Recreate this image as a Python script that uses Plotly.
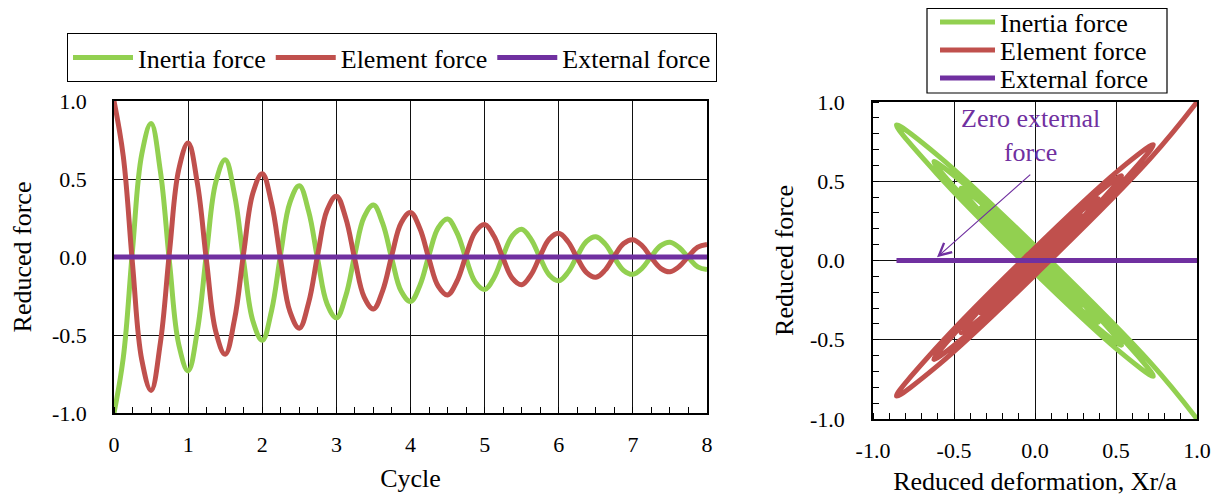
import plotly.graph_objects as go

cycle = [i / 8 for i in range(65)]

deformation = [1.000, 0.714, 0.046, -0.597, -0.855, -0.610, -0.040, 0.510,
               0.730, 0.521, 0.034, -0.436, -0.624, -0.446, -0.029, 0.373,
               0.534, 0.381, 0.025, -0.319, -0.456, -0.326, -0.021, 0.272,
               0.390, 0.278, 0.018, -0.233, -0.333, -0.238, -0.015, 0.199,
               0.285, 0.203, 0.013, -0.170, -0.243, -0.174, -0.011, 0.145,
               0.208, 0.148, 0.010, -0.124, -0.178, -0.127, -0.008, 0.106,
               0.152, 0.108, 0.007, -0.091, -0.130, -0.093, -0.006, 0.077,
               0.111, 0.079, 0.005, -0.066, -0.095, -0.068, -0.004, 0.057,
               0.081]

element_force = [1.000, 0.646, -0.046, -0.660, -0.855, -0.552, 0.040, 0.564,
                 0.730, 0.472, -0.034, -0.482, -0.624, -0.403, 0.029, 0.412,
                 0.534, 0.345, -0.025, -0.352, -0.456, -0.294, 0.021, 0.301,
                 0.390, 0.252, -0.018, -0.257, -0.333, -0.215, 0.015, 0.220,
                 0.285, 0.184, -0.013, -0.188, -0.243, -0.157, 0.011, 0.161,
                 0.208, 0.134, -0.010, -0.137, -0.178, -0.115, 0.008, 0.117,
                 0.152, 0.098, -0.007, -0.100, -0.130, -0.084, 0.006, 0.086,
                 0.111, 0.072, -0.005, -0.073, -0.095, -0.061, 0.004, 0.063,
                 0.081]

inertia_force = [-1.000, -0.646, 0.046, 0.660, 0.855, 0.552, -0.040, -0.564,
                 -0.730, -0.472, 0.034, 0.482, 0.624, 0.403, -0.029, -0.412,
                 -0.534, -0.345, 0.025, 0.352, 0.456, 0.294, -0.021, -0.301,
                 -0.390, -0.252, 0.018, 0.257, 0.333, 0.215, -0.015, -0.220,
                 -0.285, -0.184, 0.013, 0.188, 0.243, 0.157, -0.011, -0.161,
                 -0.208, -0.134, 0.010, 0.137, 0.178, 0.115, -0.008, -0.117,
                 -0.152, -0.098, 0.007, 0.100, 0.130, 0.084, -0.006, -0.086,
                 -0.111, -0.072, 0.005, 0.073, 0.095, 0.061, -0.004, -0.063,
                 -0.081]

external_force = [0.0] * 65

series_names = ["Inertia force", "Element force", "External force"]
colors = ["#92D050", "#C0504D", "#7030A0"]

cycle_ticks = [0, 1, 2, 3, 4, 5, 6, 7, 8]
cycle_ticklabels = ["0", "1", "2", "3", "4", "5", "6", "7", "8"]
unit_ticks = [-1.0, -0.5, 0.0, 0.5, 1.0]
unit_ticklabels = ["-1.0", "-0.5", "0.0", "0.5", "1.0"]

annotation_text = "Zero external<br>force"

FONT = "Liberation Serif"
OFF = 8                    # page body margin of the browser
W, H = 1219 - OFF, 496 - OFF


def px_x(p):
    return (p - OFF) / W


def px_y(p):
    return 1 - (p - OFF) / H


fig = go.Figure()

left_series = [inertia_force, element_force, external_force]
for name, col, ys in zip(series_names, colors, left_series):
    fig.add_trace(go.Scatter(x=cycle, y=ys, mode="lines", name=name,
                             line=dict(color=col, width=5, shape="spline", smoothing=1.1),
                             xaxis="x", yaxis="y", legend="legend"))

right_legends = ["legend2", "legend3", "legend4"]
for name, col, ys, lg in zip(series_names, colors, left_series, right_legends):
    fig.add_trace(go.Scatter(x=deformation, y=ys, mode="lines", name=name,
                             line=dict(color=col, width=5, shape="spline", smoothing=1.1),
                             xaxis="x2", yaxis="y2", legend=lg))


def axis(**kw):
    d = dict(showgrid=True, gridcolor="#111111", gridwidth=1, zeroline=False,
             showline=True, linecolor="black", linewidth=1.5, mirror=True,
             tickfont=dict(family=FONT, size=22, color="black"),
             title_font=dict(family=FONT, size=26, color="black"),
             ticks="", automargin=False, tickmode="array")
    d.update(kw)
    return d


minor_unit = dict(ticks="inside", tickvals=[i / 10 - 1 for i in range(21)], ticklen=6,
                  tickcolor="black", tickwidth=1, showgrid=False)

legend_font = dict(family=FONT, size=26, color="black")

layout = dict(
    width=W, height=H, autosize=False,
    margin=dict(l=0, r=0, t=0, b=0, autoexpand=False),
    paper_bgcolor="white", plot_bgcolor="white",
    font=dict(family=FONT, size=26, color="black"),
    xaxis=axis(domain=[px_x(114), px_x(707)], range=[0, 8],
               tickvals=cycle_ticks, ticktext=cycle_ticklabels,
               title=dict(text="Cycle", standoff=13), ticklabelstandoff=11,
               minor=dict(ticks="inside", tickvals=[i / 4 for i in range(33)], ticklen=6,
                          tickcolor="black", tickwidth=1, showgrid=False),
               anchor="y"),
    yaxis=axis(domain=[px_y(413), px_y(101)], range=[-1, 1],
               tickvals=unit_ticks, ticktext=unit_ticklabels,
               title=dict(text="Reduced force", standoff=13), ticklabelstandoff=21,
               anchor="x"),
    xaxis2=axis(domain=[px_x(873), px_x(1197)], range=[-1, 1],
                tickvals=unit_ticks, ticktext=unit_ticklabels,
                title=dict(text="Reduced deformation, Xr/a", standoff=13), ticklabelstandoff=11,
                minor=minor_unit, anchor="y2"),
    yaxis2=axis(domain=[px_y(419), px_y(102)], range=[-1, 1],
                tickvals=unit_ticks, ticktext=unit_ticklabels,
                title=dict(text="Reduced force", standoff=9), ticklabelstandoff=22,
                minor=minor_unit, anchor="x2"),
    legend=dict(orientation="h", x=px_x(67), y=px_y(33), xanchor="left", yanchor="top",
                bgcolor="white", bordercolor="black", borderwidth=1,
                font=legend_font, itemwidth=60),
    showlegend=True,
)

row_centers = [22, 50, 78]
for lg, yc in zip(right_legends, row_centers):
    layout[lg] = dict(orientation="v", x=px_x(935), y=px_y(yc), xanchor="left", yanchor="middle",
                      bgcolor="rgba(0,0,0,0)", borderwidth=0, font=legend_font, itemwidth=55)

fig.update_layout(**layout)

# frame around the right-hand legend
fig.add_shape(type="rect", xref="paper", yref="paper",
              x0=px_x(927), x1=px_x(1167), y0=px_y(93), y1=px_y(8.5),
              line=dict(color="black", width=1.2), fillcolor="rgba(0,0,0,0)", layer="above")

# annotation "Zero external force" with arrow
fig.add_annotation(x=-0.027, y=0.79, xref="x2", yref="y2", text=annotation_text,
                   showarrow=False, font=dict(family=FONT, size=26, color="#7030A0"),
                   align="center")
fig.add_annotation(x=-0.605, y=0.02, xref="x2", yref="y2", ax=-0.02, ay=0.55,
                   axref="x2", ayref="y2", text="", showarrow=True,
                   arrowhead=5, arrowsize=2.0, arrowwidth=1.2, arrowcolor="#7030A0")

fig.write_html("out.html")
